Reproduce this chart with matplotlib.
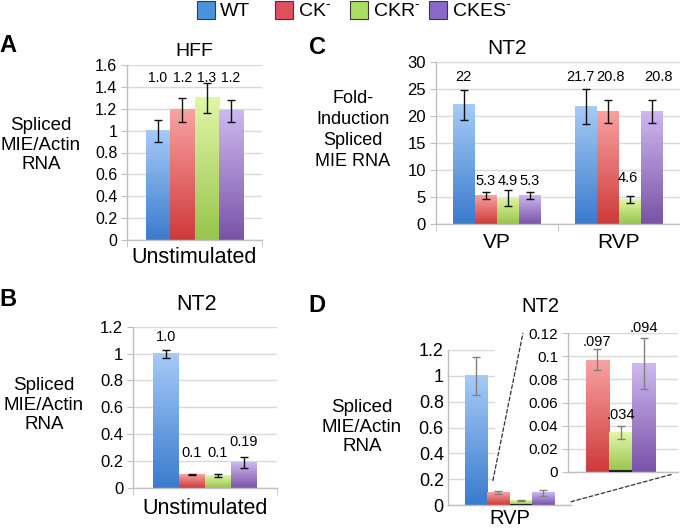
import numpy as np
import matplotlib
matplotlib.use("Agg")
import matplotlib.pyplot as plt
from matplotlib.colors import LinearSegmentedColormap
from matplotlib.patches import ConnectionPatch, Patch, Rectangle
from matplotlib.ticker import FuncFormatter

plt.rcParams['font.family'] = ['Liberation Sans', 'DejaVu Sans']
plt.rcParams['mathtext.fontset'] = 'custom'
plt.rcParams['mathtext.rm'] = 'Liberation Sans'

# ---------------- data ----------------
strains = ['WT', 'CK-', 'CKR-', 'CKES-']
legend_labels = ['WT', r'CK$^{\text{-}}$', r'CKR$^{\text{-}}$', r'CKES$^{\text{-}}$']

# Panel A (HFF)
a_categories = ['Unstimulated']
a_values = [1.0, 1.19, 1.30, 1.18]
a_errors = [0.10, 0.11, 0.14, 0.10]
a_labels = ['1.0', '1.2', '1.3', '1.2']
a_yticks = [0, 0.2, 0.4, 0.6, 0.8, 1.0, 1.2, 1.4, 1.6]

# Panel B (NT2)
b_categories = ['Unstimulated']
b_values = [1.0, 0.10, 0.095, 0.19]
b_errors = [0.03, 0.005, 0.012, 0.04]
b_labels = ['1.0', '0.1', '0.1', '0.19']
b_yticks = [0, 0.2, 0.4, 0.6, 0.8, 1.0, 1.2]

# Panel C (NT2, fold induction)
c_categories = ['VP', 'RVP']
c_values = {'VP': [22.0, 5.3, 4.9, 5.3], 'RVP': [21.7, 20.8, 4.6, 20.8]}
c_errors = {'VP': [2.7, 0.65, 1.45, 0.65], 'RVP': [3.2, 2.1, 0.7, 2.1]}
c_labels = {'VP': ['22', '5.3', '4.9', '5.3'], 'RVP': ['21.7', '20.8', '4.6', '20.8']}
c_yticks = [0, 5, 10, 15, 20, 25, 30]

# Panel D (NT2, RVP)
d_categories = ['RVP']
d_values = [1.0, 0.097, 0.034, 0.094]
d_errors = [0.145, 0.009, 0.0055, 0.022]
d_yticks = [0, 0.2, 0.4, 0.6, 0.8, 1.0, 1.2]
inset_values = [0.097, 0.034, 0.094]
inset_errors = [0.009, 0.0055, 0.022]
inset_labels = ['.097', '.034', '.094']
inset_yticks = [0, 0.02, 0.04, 0.06, 0.08, 0.10, 0.12]

# ---------------- style ----------------
grad_colors = [('#3A7BCD', '#A6CBF7'),   # WT
               ('#CE3A3A', '#F9A2A2'),   # CK-
               ('#97C54A', '#E1F7A8'),   # CKR-
               ('#7952A8', '#CEB9EF')]   # CKES-
legend_colors = ['#4A92DC', '#E0505A', '#A9E063', '#8B69C8']
GRID = '#D9D9D9'
AXC = '#BFBFBF'

W, H = 680, 529
fig = plt.figure(figsize=(W / 100, H / 100), dpi=100)


def rect(x0, y0, x1, y1):
    return [x0 / W, 1 - y1 / H, (x1 - x0) / W, (y1 - y0) / H]


def fx(x):
    return x / W


def fy(y):
    return 1 - y / H


def style_axes(ax, yticks, ylim, fs_tick, bounds=None):
    ax.set_ylim(*ylim)
    ax.set_yticks(yticks)
    ax.yaxis.set_major_formatter(FuncFormatter(lambda v, p: '%g' % round(v, 4)))
    ax.yaxis.grid(True, color=GRID, lw=1)
    ax.set_axisbelow(True)
    for s in ['top', 'right']:
        ax.spines[s].set_visible(False)
    for s in ['left', 'bottom']:
        ax.spines[s].set_color(AXC)
        ax.spines[s].set_linewidth(1)
    ax.tick_params(axis='y', length=4, color=AXC, labelsize=fs_tick, pad=3)
    ax.tick_params(axis='x', which='major', length=0)
    if bounds is not None:
        ax.set_xticks(bounds, minor=True)
        ax.tick_params(axis='x', which='minor', length=5, color=AXC)


def grad_bars(ax, xs, vals, width, colors):
    bars = ax.bar(xs, vals, width, color='none', edgecolor='none', zorder=2)
    grad = np.linspace(0, 1, 256).reshape(-1, 1)
    for b, (c0, c1) in zip(bars, colors):
        cmap = LinearSegmentedColormap.from_list('g', [c0, c1])
        ax.imshow(grad, cmap=cmap, origin='lower', aspect='auto', zorder=2,
                  extent=[b.get_x(), b.get_x() + b.get_width(), 0, b.get_height()])
    return bars


bw = 0.18
offsets = np.array([-1.5, -0.5, 0.5, 1.5]) * bw
YLAB_FS = 13.5
YLAB_LS = 1.2

# ---------------- Panel A ----------------
axA = fig.add_axes(rect(127, 65, 262, 240))
xsA = 0 + offsets
grad_bars(axA, xsA, a_values, bw, grad_colors)
axA.errorbar(xsA, a_values, yerr=a_errors, fmt='none', ecolor='#111111',
             elinewidth=1, capsize=3, capthick=1, zorder=3)
axA.set_xlim(-0.5, 0.5)
style_axes(axA, a_yticks, (0, 1.6), 11.5, bounds=[-0.5, 0.5])
axA.set_xticks([0])
axA.set_xticklabels(a_categories, fontsize=15.5)
axA.tick_params(axis='x', which='major', pad=5)
for x, s in zip(xsA, a_labels):
    axA.text(x, 1.48, s, ha='center', va='center', fontsize=10)
fig.text(fx(194), fy(52), 'HFF', ha='center', va='center', fontsize=14)
fig.text(fx(41), fy(145), 'Spliced\nMIE/Actin\nRNA', ha='center', va='center',
         fontsize=YLAB_FS, linespacing=YLAB_LS)
fig.text(fx(8), fy(45), 'A', ha='center', va='center', fontsize=17, fontweight='bold')

# ---------------- Panel B ----------------
axB = fig.add_axes(rect(133, 326.7, 277, 488))
xsB = 0 + offsets
grad_bars(axB, xsB, b_values, bw, grad_colors)
axB.errorbar(xsB, b_values, yerr=b_errors, fmt='none', ecolor='#111111',
             elinewidth=1, capsize=3, capthick=1, zorder=3)
axB.set_xlim(-0.5, 0.5)
style_axes(axB, b_yticks, (0, 1.2), 12, bounds=[-0.5, 0.5])
axB.set_xticks([0])
axB.set_xticklabels(b_categories, fontsize=15.5)
axB.tick_params(axis='x', which='major', pad=7)
for x, s, y in zip(xsB, b_labels, [1.126, 0.26, 0.26, 0.34]):
    axB.text(x, y, s, ha='center', va='center', fontsize=10.5)
fig.text(fx(197), fy(305), 'NT2', ha='center', va='center', fontsize=15.5)
fig.text(fx(44), fy(405), 'Spliced\nMIE/Actin\nRNA', ha='center', va='center',
         fontsize=YLAB_FS, linespacing=YLAB_LS)
fig.text(fx(8), fy(300), 'B', ha='center', va='center', fontsize=17, fontweight='bold')

# ---------------- Panel C ----------------
axC = fig.add_axes(rect(435.7, 61.7, 680, 224.3))
c_label_shift = {'VP': [0.0, 0.0, 0.0, 0.0], 'RVP': [-0.045, 0.018, -0.015, 0.05]}
for i, cat in enumerate(c_categories):
    xs = i + offsets
    grad_bars(axC, xs, c_values[cat], bw, grad_colors)
    axC.errorbar(xs, c_values[cat], yerr=c_errors[cat], fmt='none', ecolor='#111111',
                 elinewidth=1, capsize=3, capthick=1, zorder=3)
    ys = [27.1 if v > 15 else (8.5 if cat == 'RVP' else 8.05) for v in c_values[cat]]
    for x, s, y, dx in zip(xs, c_labels[cat], ys, c_label_shift[cat]):
        axC.text(x + dx, y, s, ha='center', va='center', fontsize=10.5)
axC.set_xlim(-0.5, 1.5)
style_axes(axC, c_yticks, (0, 30), 12, bounds=[-0.5, 0.5, 1.5])
axC.set_xticks([0, 1])
axC.set_xticklabels(c_categories, fontsize=15)
axC.tick_params(axis='x', which='major', pad=6)
fig.text(fx(507), fy(48), 'NT2', ha='center', va='center', fontsize=15)
fig.text(fx(353), fy(130), 'Fold-\nInduction\nSpliced\nMIE RNA', ha='center', va='center',
         fontsize=13, linespacing=1.3)
fig.text(fx(318), fy(47), 'C', ha='center', va='center', fontsize=17, fontweight='bold')

# ---------------- Panel D ----------------
axD = fig.add_axes(rect(448, 350, 571, 505))
xsD = 0 + offsets
barsD = grad_bars(axD, xsD, d_values, bw, grad_colors)
axD.errorbar(xsD, d_values, yerr=d_errors, fmt='none', ecolor='#808080',
             elinewidth=1, capsize=3, capthick=1, zorder=3)
gb = barsD[2]
axD.hlines(0.003, gb.get_x(), gb.get_x() + gb.get_width(), color='#222222', lw=1.5, zorder=4)
axD.set_xlim(-0.5, 0.5)
style_axes(axD, d_yticks, (0, 1.2), 13)
axD.set_xticks([0])
axD.set_xticklabels(d_categories, fontsize=14.5)
axD.tick_params(axis='x', which='major', pad=3)
axD.tick_params(axis='y', length=0)
fig.text(fx(540), fy(307), 'NT2', ha='center', va='center', fontsize=14.5)
fig.text(fx(362), fy(427), 'Spliced\nMIE/Actin\nRNA', ha='center', va='center',
         fontsize=YLAB_FS, linespacing=YLAB_LS)
fig.text(fx(317), fy(305), 'D', ha='center', va='center', fontsize=17, fontweight='bold')

# white background behind the inset
fig.add_artist(Rectangle((fx(495), fy(486)), fx(185), (486 - 318) / H,
                         transform=fig.transFigure, facecolor='white',
                         edgecolor='none', zorder=0.5))

axI = fig.add_axes(rect(568, 333.3, 678, 471.7))
axI.set_zorder(1)
axI.patch.set_alpha(0)
xsI = np.arange(len(inset_values))
barsI = grad_bars(axI, xsI, inset_values, 1.0, grad_colors[1:])
axI.errorbar(xsI, inset_values, yerr=inset_errors, fmt='none', ecolor='#808080',
             elinewidth=1, capsize=3, capthick=1, zorder=3)
gi = barsI[1]
axI.hlines(0.0003, gi.get_x(), gi.get_x() + gi.get_width(), color='#222222', lw=1.5, zorder=4)
for x, s, y in zip(xsI, inset_labels, [0.1127, 0.049, 0.125]):
    axI.text(x, y, s, ha='center', va='center', fontsize=10.5, clip_on=False)
axI.set_xlim(-1.26, 3.46)
style_axes(axI, inset_yticks, (0, 0.12), 11)
axI.set_xticks([])

# dashed zoom connectors
rb = barsD[1]
con1 = ConnectionPatch(xyA=(rb.get_x() + 0.25 * rb.get_width(), 0.19), coordsA=axD.transData,
                       xyB=(-0.41, 1.0), coordsB=axI.transAxes,
                       ls=(0, (3, 2)), color='#333333', lw=0.9, zorder=10)
con2 = ConnectionPatch(xyA=(1.0, 0.021), coordsA=axD.transAxes,
                       xyB=(0.943, -0.019), coordsB=axI.transAxes,
                       ls=(0, (3, 2)), color='#333333', lw=0.9, zorder=10)
fig.add_artist(con1)
fig.add_artist(con2)

# ---------------- legend (one entry per anchor) ----------------
legend_box_x = [196.7, 275, 350, 429.3]
for c, lab, bx in zip(legend_colors, legend_labels, legend_box_x):
    h = Patch(facecolor=c, edgecolor='#3A3A3A', lw=0.8)
    fig.legend([h], [lab], loc='upper left', bbox_to_anchor=(fx(bx), fy(0.5)),
               frameon=False, fontsize=14, handlelength=0.93, handleheight=1.08,
               handletextpad=0.25, borderpad=0, borderaxespad=0)

fig.savefig('out.png', dpi=100)
